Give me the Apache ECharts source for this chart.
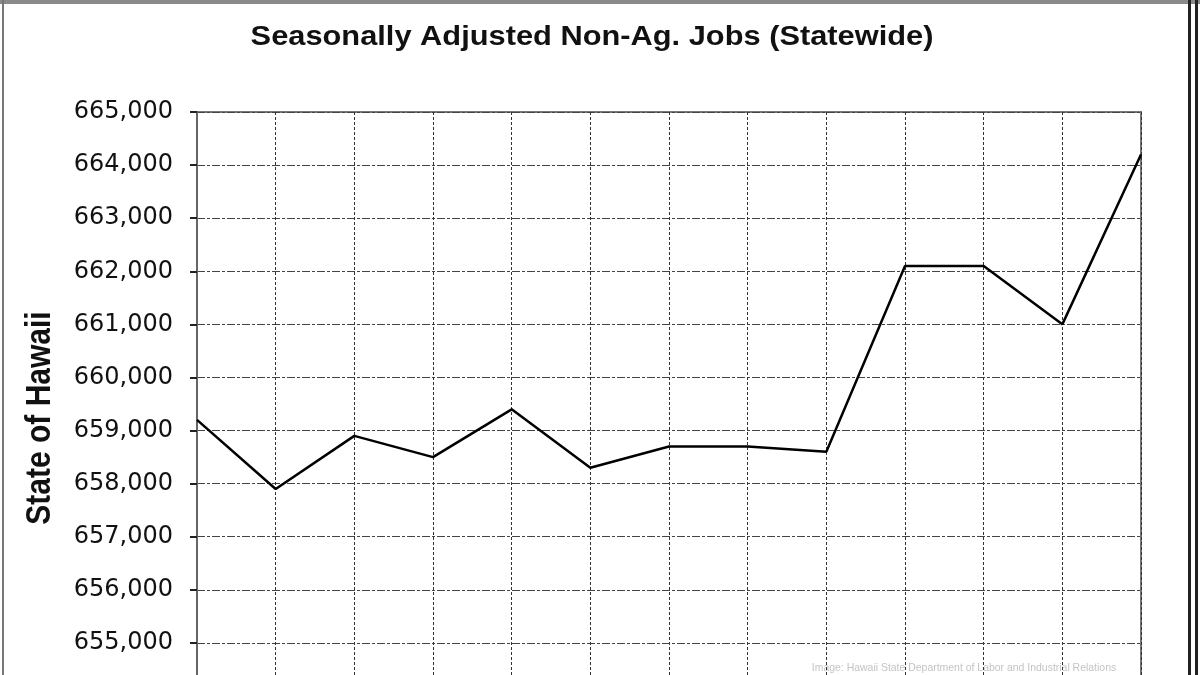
<!DOCTYPE html>
<html>
<head>
<meta charset="utf-8">
<script src="https://cdn.jsdelivr.net/npm/echarts@6/dist/echarts.min.js"></script>
<style>html,body{margin:0;padding:0;background:#fff;}#c{width:1200px;height:675px;}</style>
</head>
<body>
<div id="c"></div>
<script>
const titleText = 'Seasonally Adjusted Non-Ag. Jobs (Statewide)';
const yAxisName = 'State of Hawaii';
const creditText = 'Image: Hawaii State Department of Labor and Industrial Relations';
const categories = ['1','2','3','4','5','6','7','8','9','10','11','12','13'];
const jobs = [659200, 657900, 658900, 658500, 659400, 658300, 658700, 658700, 658600, 662100, 662100, 661000, 664200];
const yMin = 654000, yMax = 665000, yStep = 1000;

const chart = echarts.init(document.getElementById('c'), null, {renderer: 'canvas'});
chart.setOption({
  animation: false,
  backgroundColor: '#fff',
  grid: {left: 197, right: 59, top: 112, height: 584, outerBoundsMode: 'none', containLabel: false,
    show: true, borderColor: '#777', borderWidth: 2, backgroundColor: 'transparent'},
  xAxis: {
    type: 'category', data: categories, boundaryGap: false,
    axisLine: {show: false}, axisTick: {show: false}, axisLabel: {show: false},
    splitLine: {show: true, lineStyle: {color: '#333', width: 1, type: [3, 2]}}
  },
  yAxis: {
    type: 'value', min: yMin, max: yMax, interval: yStep,
    axisLine: {show: true, lineStyle: {color: '#666', width: 2}},
    axisTick: {show: true, inside: false, length: 7, lineStyle: {color: '#222', width: 2}},
    axisLabel: {
      margin: 24, color: '#111', fontFamily: 'DejaVu Sans', fontSize: 24, showMinLabel: false,
      formatter: v => v.toLocaleString('en-US')
    },
    splitLine: {show: true, lineStyle: {color: '#444', width: 1, type: [8, 2, 3, 2]}}
  },
  series: [{
    type: 'line', data: jobs, showSymbol: false, symbol: 'none',
    lineStyle: {color: '#000', width: 2.5}, z: 5
  }],
  graphic: [
    {type: 'rect', shape: {x: 0, y: 0, width: 1200, height: 4}, style: {fill: '#8a8a8a'}, silent: true},
    {type: 'rect', shape: {x: 2, y: 0, width: 2, height: 675}, style: {fill: '#777'}, silent: true},
    {type: 'rect', shape: {x: 1188, y: 0, width: 3, height: 675}, style: {fill: '#222'}, silent: true},
    {type: 'rect', shape: {x: 1195, y: 0, width: 3, height: 675}, style: {fill: '#222'}, silent: true},
    {type: 'text', x: 592, y: 37, scaleX: 1.1,
      style: {text: titleText, fill: '#111', font: 'bold 28px "Liberation Sans", Arial, sans-serif', textAlign: 'center', textVerticalAlign: 'middle'}},
    {type: 'text', x: 40, y: 418, rotation: Math.PI / 2, scaleY: 1.15,
      style: {text: yAxisName, fill: '#111', font: 'bold 30px "Liberation Sans", Arial, sans-serif', textAlign: 'center', textVerticalAlign: 'middle'}},
    {type: 'text', x: 964, y: 668, scaleX: 0.95,
      style: {text: creditText, fill: '#c4c4c4', font: '11px "Liberation Sans", Arial, sans-serif', textAlign: 'center', textVerticalAlign: 'middle'}}
  ]
});
</script>
</body>
</html>
